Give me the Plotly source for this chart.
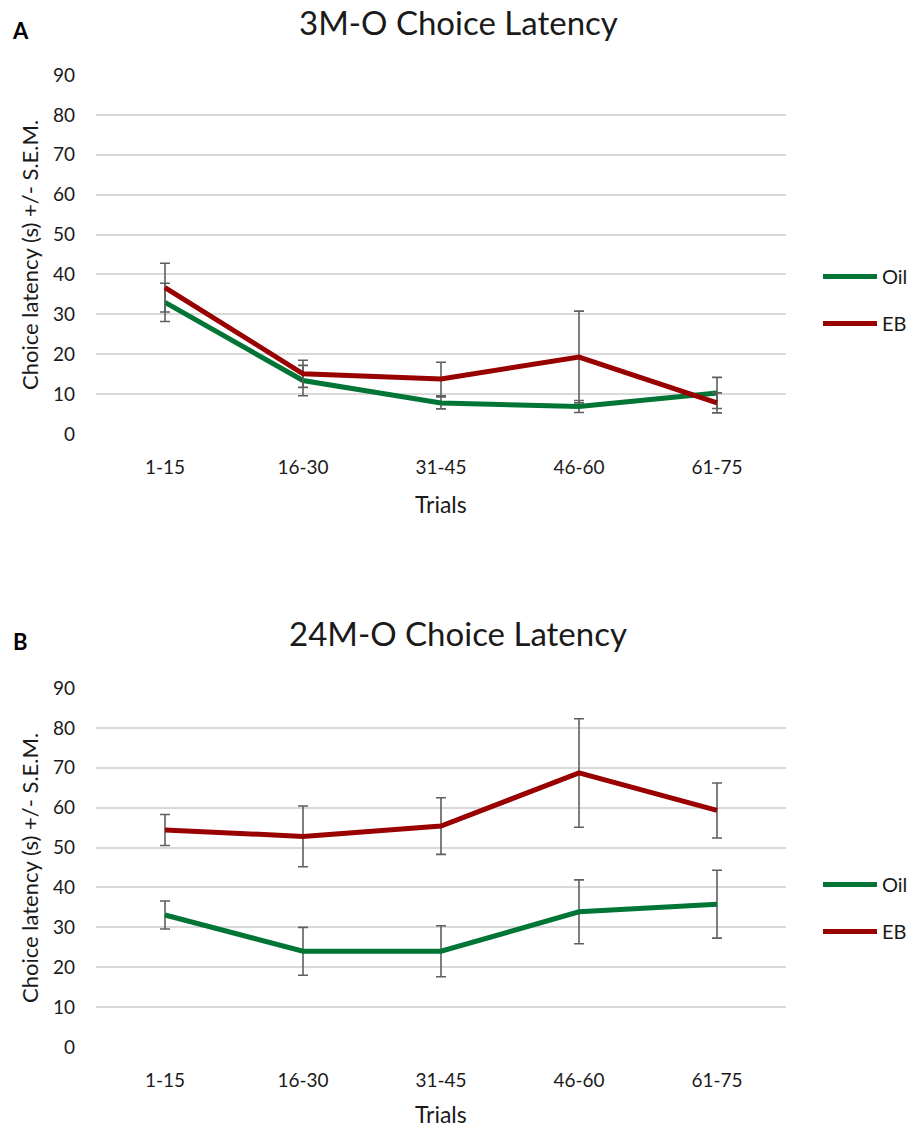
import plotly.graph_objects as go

trials = ["1-15", "16-30", "31-45", "46-60", "61-75"]

# Panel A: 3M-O
oil_a = [33.0, 13.4, 7.8, 6.9, 10.3]
oil_a_sem = [4.8, 3.8, 1.5, 1.5, 3.9]
eb_a = [36.7, 15.1, 13.8, 19.3, 7.8]
eb_a_sem = [6.1, 3.4, 4.2, 11.5, 2.5]

# Panel B: 24M-O
oil_b = [33.1, 24.0, 24.0, 33.9, 35.8]
oil_b_sem = [3.5, 6.0, 6.4, 8.0, 8.5]
eb_b = [54.4, 52.8, 55.4, 68.7, 59.3]
eb_b_sem = [3.9, 7.6, 7.1, 13.6, 6.9]

yticks = [0, 10, 20, 30, 40, 50, 60, 70, 80, 90]

GREEN = "#007535"
RED = "#990000"
ERR = "#5f5f5f"
TXT = "#1a1a1a"
FONT = "Lato, Open Sans, sans-serif"
W, H = 914, 1130
L, R = 96, 786

fig = go.Figure()

def add(y, sem, name, color, xa, ya, legend):
    fig.add_trace(go.Scatter(
        x=trials, y=y, name=name, mode="lines",
        line=dict(color=color, width=5),
        error_y=dict(type="data", array=sem, visible=True, color=ERR, thickness=1.6, width=5),
        xaxis=xa, yaxis=ya, legend=legend, legendgroup=legend + name,
    ))

add(oil_a, oil_a_sem, "Oil", GREEN, "x", "y", "legend")
add(eb_a, eb_a_sem, "EB", RED, "x", "y", "legend")
add(oil_b, oil_b_sem, "Oil", GREEN, "x2", "y2", "legend2")
add(eb_b, eb_b_sem, "EB", RED, "x2", "y2", "legend2")

def py(p):
    return 1 - p / H

def px(p):
    return (p - L) / (R - L)

ax_common = dict(showgrid=False, showline=False, ticks="", zeroline=False, range=[-0.5, 4.5],
                 tickfont=dict(size=19, color=TXT, family=FONT))
yax_common = dict(range=[0, 90], tickvals=yticks, showgrid=True, gridcolor="#d9d9d9", gridwidth=1.5,
                  zeroline=False, showline=False, ticks="", ticklabelstandoff=20,
                  tickfont=dict(size=19, color=TXT, family=FONT))
leg_common = dict(xanchor="left", yanchor="middle", font=dict(size=20, color=TXT, family=FONT),
                  tracegroupgap=18, itemwidth=54, bgcolor="rgba(0,0,0,0)")

fig.update_layout(
    width=W, height=H,
    margin=dict(l=L, r=W - R, t=0, b=0, autoexpand=False),
    paper_bgcolor="white", plot_bgcolor="white",
    font=dict(family=FONT, color=TXT),
    xaxis=dict(domain=[0, 1], anchor="y", ticklabelstandoff=20, **ax_common),
    yaxis=dict(domain=[py(434), py(75)], anchor="x", **yax_common),
    xaxis2=dict(domain=[0, 1], anchor="y2", ticklabelstandoff=20, **ax_common),
    yaxis2=dict(domain=[py(1047), py(688)], anchor="x2", **yax_common),
    legend=dict(x=px(818), y=py(300), **leg_common),
    legend2=dict(x=px(818), y=py(908), **leg_common),
    showlegend=True,
)

annos = [
    dict(text="3M-O Choice Latency", x=458, y=22, size=33, bold=False, angle=0),
    dict(text="24M-O Choice Latency", x=458, y=633, size=33, bold=False, angle=0),
    dict(text="<b>A</b>", x=20, y=30, size=22, bold=True, angle=0),
    dict(text="<b>B</b>", x=20, y=641, size=22, bold=True, angle=0),
    dict(text="Trials", x=441, y=504, size=23, bold=False, angle=0),
    dict(text="Trials", x=441, y=1114, size=23, bold=False, angle=0),
    dict(text="Choice latency (s) +/- S.E.M.", x=29, y=255, size=22, bold=False, angle=-90),
    dict(text="Choice latency (s) +/- S.E.M.", x=29, y=868, size=22, bold=False, angle=-90),
]
for a in annos:
    fig.add_annotation(
        text=a["text"], x=px(a["x"]), y=py(a["y"]), xref="paper", yref="paper",
        xanchor="center", yanchor="middle", showarrow=False, textangle=a["angle"],
        font=dict(size=a["size"], family=FONT, color="#000000" if a["bold"] else TXT),
    )

fig.write_html("out.html", config={"displayModeBar": False},
               post_script="document.body.style.margin='0';")
